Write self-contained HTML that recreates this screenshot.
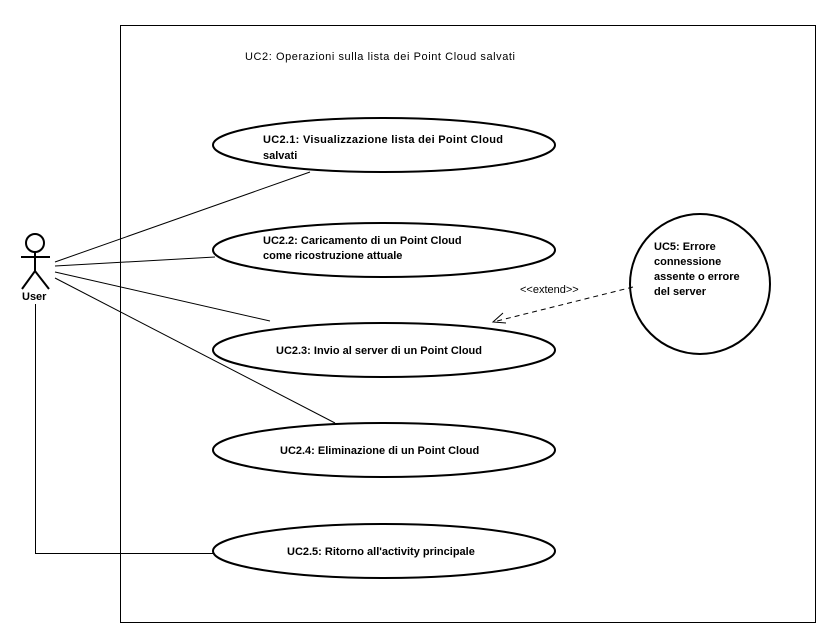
<!DOCTYPE html>
<html><head><style>html,body{margin:0;padding:0;background:#fff;}svg{display:block;}
text{font-family:"Liberation Sans",Arial,sans-serif;font-size:11px;fill:#000;}
.b{font-weight:bold;}</style></head><body>
<svg width="831" height="639" viewBox="0 0 831 639" xmlns="http://www.w3.org/2000/svg">
<rect x="120.5" y="25.5" width="695" height="597" fill="none" stroke="#000" stroke-width="1"/>
<text x="245" y="60" textLength="270">UC2: Operazioni sulla lista dei Point Cloud salvati</text>
<g fill="#fff" stroke="#000" stroke-width="2">
<ellipse cx="384" cy="145" rx="171" ry="27"/>
<ellipse cx="384" cy="250" rx="171" ry="27"/>
<ellipse cx="384" cy="350" rx="171" ry="27"/>
<ellipse cx="384" cy="450" rx="171" ry="27"/>
<ellipse cx="384" cy="551" rx="171" ry="27"/>
<ellipse cx="700" cy="284" rx="70" ry="70"/>
</g>
<g stroke="#000" stroke-width="1" fill="none">
<line x1="55" y1="262" x2="310" y2="172"/>
<line x1="55" y1="266" x2="215" y2="257"/>
<line x1="55" y1="272" x2="270" y2="321"/>
<line x1="55" y1="278" x2="335" y2="423"/>
<polyline points="35.5,304 35.5,553.5 214,553.5"/>
<line x1="633" y1="287" x2="493" y2="322" stroke-dasharray="5,4"/>
<polyline points="503,313 493,322 506,323"/>
</g>
<g stroke="#000" stroke-width="2" fill="none">
<circle cx="35" cy="243" r="9"/>
<line x1="35" y1="252" x2="35" y2="271"/>
<line x1="21" y1="257" x2="50" y2="257"/>
<polyline points="22,289 35,271 49,289"/>
</g>
<text class="b" x="22" y="300">User</text>
<text x="520" y="293">&lt;&lt;extend&gt;&gt;</text>
<text class="b" x="263" y="143" textLength="240">UC2.1: Visualizzazione lista dei Point Cloud</text>
<text class="b" x="263" y="159">salvati</text>
<text class="b" x="263" y="244">UC2.2: Caricamento di un Point Cloud</text>
<text class="b" x="263" y="259">come ricostruzione attuale</text>
<text class="b" x="276" y="354">UC2.3: Invio al server di un Point Cloud</text>
<text class="b" x="280" y="454">UC2.4: Eliminazione di un Point Cloud</text>
<text class="b" x="287" y="555">UC2.5: Ritorno all'activity principale</text>
<text class="b" x="654" y="250">UC5: Errore</text>
<text class="b" x="654" y="265">connessione</text>
<text class="b" x="654" y="280">assente o errore</text>
<text class="b" x="654" y="295">del server</text>
</svg>
</body></html>
